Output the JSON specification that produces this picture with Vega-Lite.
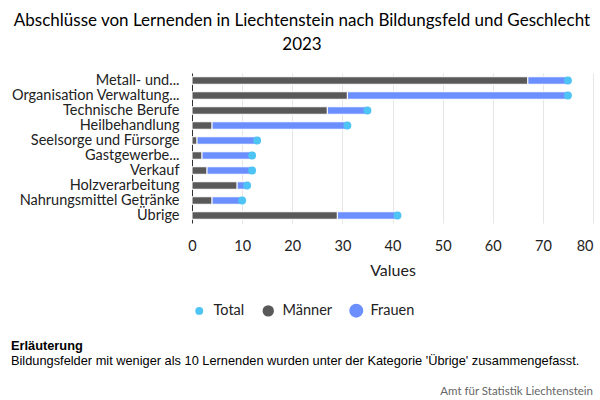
{
  "$schema": "https://vega.github.io/schema/vega-lite/v6.json",
  "padding": {"left": 10, "top": 12, "right": 7, "bottom": 5},
  "title": {
    "text": ["Abschlüsse von Lernenden in Liechtenstein nach Bildungsfeld und Geschlecht", "2023"],
    "anchor": "middle",
    "frame": "bounds",
    "fontSize": 17,
    "fontWeight": "normal",
    "lineHeight": 24,
    "color": "#000000",
    "offset": 18
  },
  "datasets": {
    "abschluesse": [
      {"Bildungsfeld": "Metall- und...", "Geschlecht": "Männer", "Anzahl": 67},
      {"Bildungsfeld": "Metall- und...", "Geschlecht": "Frauen", "Anzahl": 8},
      {"Bildungsfeld": "Metall- und...", "Geschlecht": "Total", "Anzahl": 75},
      {"Bildungsfeld": "Organisation Verwaltung...", "Geschlecht": "Männer", "Anzahl": 31},
      {"Bildungsfeld": "Organisation Verwaltung...", "Geschlecht": "Frauen", "Anzahl": 44},
      {"Bildungsfeld": "Organisation Verwaltung...", "Geschlecht": "Total", "Anzahl": 75},
      {"Bildungsfeld": "Technische Berufe", "Geschlecht": "Männer", "Anzahl": 27},
      {"Bildungsfeld": "Technische Berufe", "Geschlecht": "Frauen", "Anzahl": 8},
      {"Bildungsfeld": "Technische Berufe", "Geschlecht": "Total", "Anzahl": 35},
      {"Bildungsfeld": "Heilbehandlung", "Geschlecht": "Männer", "Anzahl": 4},
      {"Bildungsfeld": "Heilbehandlung", "Geschlecht": "Frauen", "Anzahl": 27},
      {"Bildungsfeld": "Heilbehandlung", "Geschlecht": "Total", "Anzahl": 31},
      {"Bildungsfeld": "Seelsorge und Fürsorge", "Geschlecht": "Männer", "Anzahl": 1},
      {"Bildungsfeld": "Seelsorge und Fürsorge", "Geschlecht": "Frauen", "Anzahl": 12},
      {"Bildungsfeld": "Seelsorge und Fürsorge", "Geschlecht": "Total", "Anzahl": 13},
      {"Bildungsfeld": "Gastgewerbe...", "Geschlecht": "Männer", "Anzahl": 2},
      {"Bildungsfeld": "Gastgewerbe...", "Geschlecht": "Frauen", "Anzahl": 10},
      {"Bildungsfeld": "Gastgewerbe...", "Geschlecht": "Total", "Anzahl": 12},
      {"Bildungsfeld": "Verkauf", "Geschlecht": "Männer", "Anzahl": 3},
      {"Bildungsfeld": "Verkauf", "Geschlecht": "Frauen", "Anzahl": 9},
      {"Bildungsfeld": "Verkauf", "Geschlecht": "Total", "Anzahl": 12},
      {"Bildungsfeld": "Holzverarbeitung", "Geschlecht": "Männer", "Anzahl": 9},
      {"Bildungsfeld": "Holzverarbeitung", "Geschlecht": "Frauen", "Anzahl": 2},
      {"Bildungsfeld": "Holzverarbeitung", "Geschlecht": "Total", "Anzahl": 11},
      {"Bildungsfeld": "Nahrungsmittel Getränke", "Geschlecht": "Männer", "Anzahl": 4},
      {"Bildungsfeld": "Nahrungsmittel Getränke", "Geschlecht": "Frauen", "Anzahl": 6},
      {"Bildungsfeld": "Nahrungsmittel Getränke", "Geschlecht": "Total", "Anzahl": 10},
      {"Bildungsfeld": "Übrige", "Geschlecht": "Männer", "Anzahl": 29},
      {"Bildungsfeld": "Übrige", "Geschlecht": "Frauen", "Anzahl": 12},
      {"Bildungsfeld": "Übrige", "Geschlecht": "Total", "Anzahl": 41}
    ]
  },
  "vconcat": [
    {
      "width": 401,
      "height": 150,
      "data": {"name": "abschluesse"},
      "title": {
        "text": "Erläuterung",
        "subtitle": "Bildungsfelder mit weniger als 10 Lernenden wurden unter der Kategorie 'Übrige' zusammengefasst.",
        "orient": "bottom",
        "anchor": "start",
        "frame": "bounds",
        "font": "Liberation Sans",
        "fontSize": 12.8,
        "fontWeight": "bold",
        "color": "#000000",
        "subtitleFont": "Liberation Sans",
        "subtitleFontSize": 12.8,
        "subtitleColor": "#000000",
        "subtitlePadding": 2,
        "offset": 22
      },
      "encoding": {
        "y": {
          "field": "Bildungsfeld",
          "type": "nominal",
          "sort": ["Metall- und...", "Organisation Verwaltung...", "Technische Berufe", "Heilbehandlung", "Seelsorge und Fürsorge", "Gastgewerbe...", "Verkauf", "Holzverarbeitung", "Nahrungsmittel Getränke", "Übrige"],
          "scale": {"paddingInner": 0.5, "paddingOuter": 0.25},
          "axis": {
            "title": null,
            "ticks": false,
            "domain": true,
            "domainColor": "#333333",
            "labelFontSize": 14.5,
            "labelColor": "#222222",
            "labelPadding": 13,
            "labelLimit": 300
          }
        },
        "x": {
          "field": "Anzahl",
          "type": "quantitative",
          "scale": {"domain": [0, 80]},
          "axis": {
            "title": "Values",
            "values": [0, 10, 20, 30, 40, 50, 60, 70, 80],
            "domain": false,
            "ticks": false,
            "grid": true,
            "gridColor": "#e6e6e6",
            "labelFontSize": 14.5,
            "labelColor": "#222222",
            "labelPadding": 16,
            "labelAlign": {"condition": {"test": "datum.value === 80", "value": "right"}, "value": "center"},
            "titleFontSize": 16,
            "titleFontWeight": "normal",
            "titleColor": "#222222",
            "titlePadding": 10
          }
        },
        "color": {
          "field": "Geschlecht",
          "type": "nominal",
          "scale": {"domain": ["Total", "Männer", "Frauen"], "range": ["#4dc4f3", "#595959", "#6b8fff"]},
          "legend": {
            "title": null,
            "orient": "bottom",
            "direction": "horizontal",
            "offset": 24,
            "symbolType": "circle",
            "symbolStrokeWidth": 0,
            "labelFontSize": 14.5,
            "labelColor": "#222222",
            "labelOffset": 7,
            "columnPadding": 16
          }
        }
      },
      "layer": [
        {
          "transform": [{"filter": "datum.Geschlecht !== 'Total'"}],
          "mark": {"type": "bar", "stroke": "#ffffff", "strokeWidth": 1},
          "encoding": {
            "order": {"field": "Geschlecht", "sort": "descending"}
          }
        },
        {
          "transform": [{"filter": "datum.Geschlecht === 'Total'"}],
          "mark": {"type": "circle", "opacity": 1},
          "encoding": {
            "size": {
              "field": "Geschlecht",
              "type": "nominal",
              "scale": {"domain": ["Total", "Männer", "Frauen"], "range": [62, 196, 196]},
              "legend": {
                "title": null,
                "orient": "bottom",
                "direction": "horizontal",
                "offset": 24,
                "symbolType": "circle",
                "symbolStrokeWidth": 0,
                "labelFontSize": 14.5,
                "labelColor": "#222222",
                "labelOffset": 7,
                "columnPadding": 16
              }
            }
          }
        }
      ]
    },
    {
      "width": 401,
      "height": 1,
      "data": {"values": []},
      "mark": {"type": "rule"},
      "encoding": {},
      "title": {
        "text": "Amt für Statistik Liechtenstein",
        "anchor": "end",
        "frame": "group",
        "fontSize": 11.5,
        "fontWeight": "normal",
        "color": "#666666",
        "offset": 0
      }
    }
  ],
  "spacing": 17,
  "resolve": {
    "scale": {"color": "independent", "size": "independent"},
    "legend": {"color": "independent", "size": "independent"}
  },
  "config": {
    "font": "Lato",
    "view": {"stroke": null}
  }
}
